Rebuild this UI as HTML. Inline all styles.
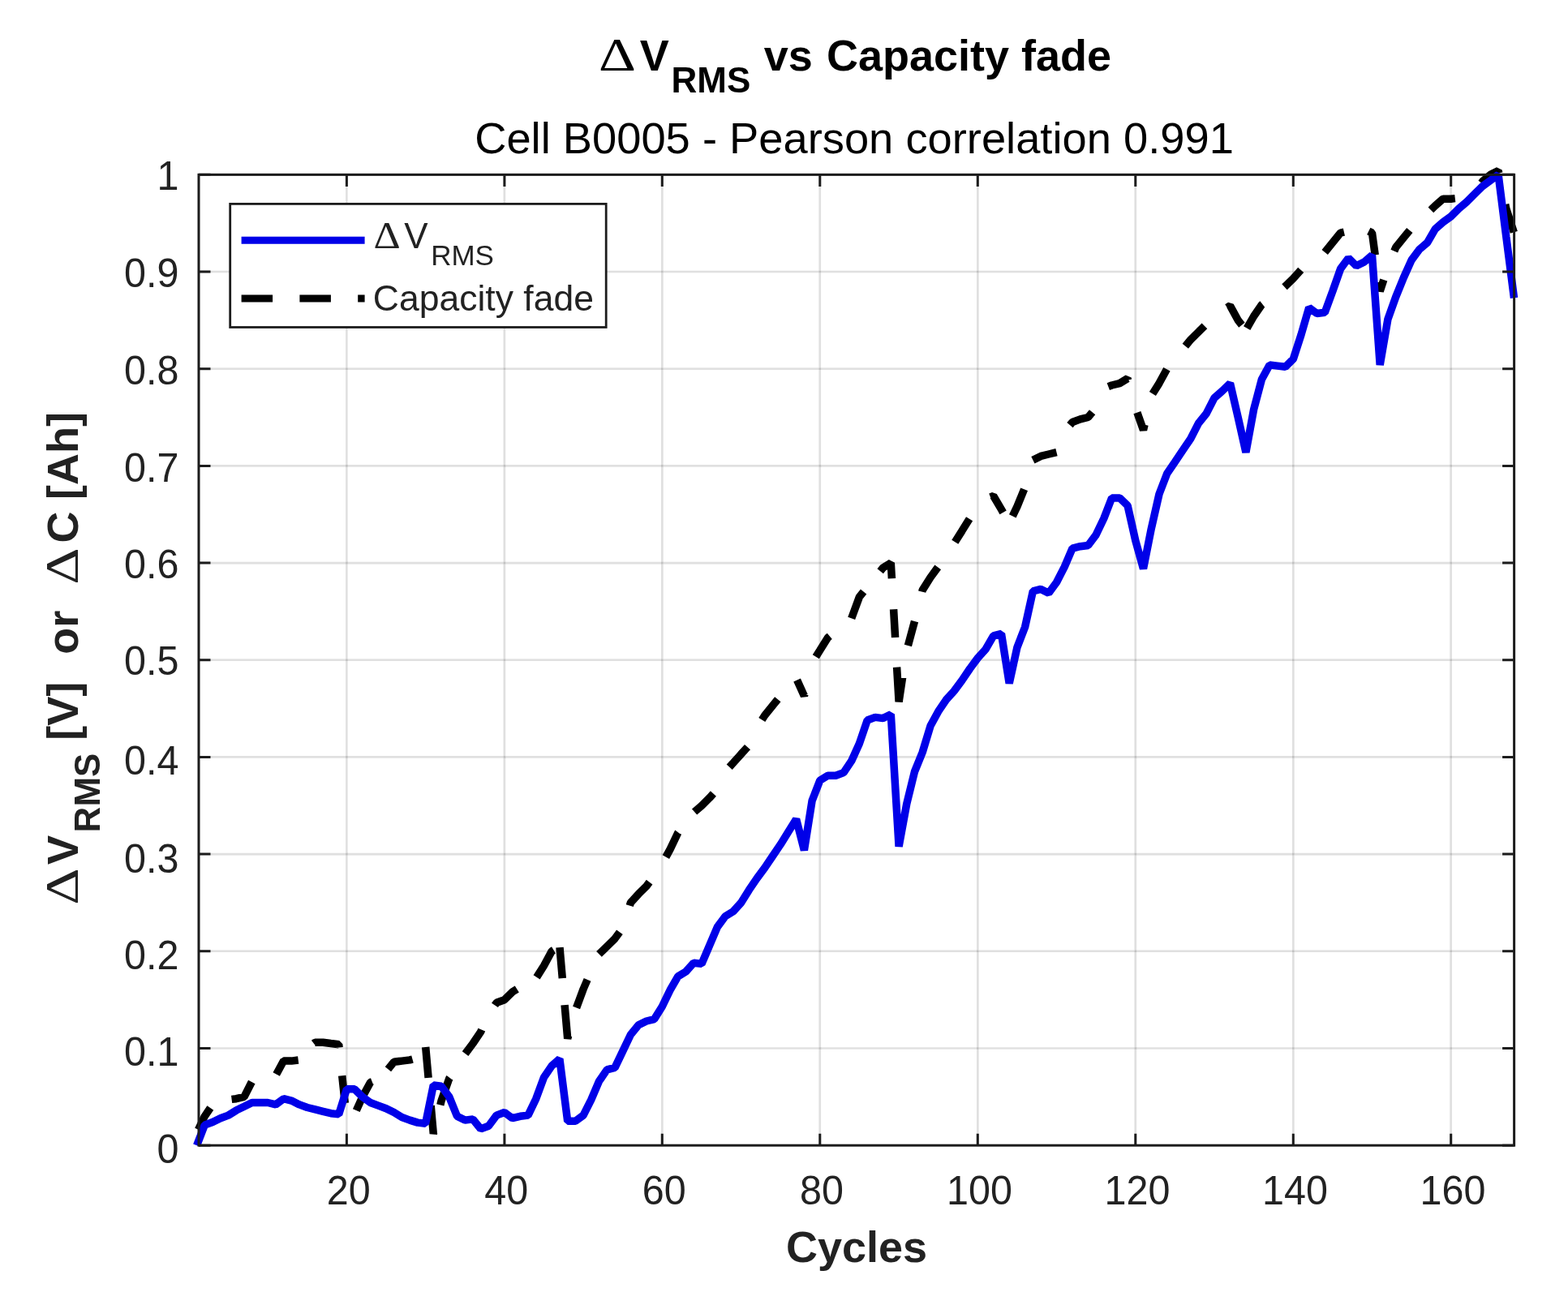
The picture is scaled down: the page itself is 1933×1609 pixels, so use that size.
<!DOCTYPE html>
<html><head><meta charset="utf-8"><title>ΔV RMS vs Capacity fade</title>
<style>html,body{margin:0;padding:0;background:#fff;}svg{display:block;}</style>
</head><body>
<svg width="1933" height="1609" viewBox="0 0 1933 1609">
<defs><filter id="soft" x="0" y="0" width="100%" height="100%" filterUnits="userSpaceOnUse"><feGaussianBlur stdDeviation="0.7"/></filter></defs>
<rect x="0" y="0" width="1933" height="1609" fill="#ffffff"/>
<g filter="url(#soft)">
<path d="M427.4 215.4V1412.2M621.9 215.4V1412.2M816.3 215.4V1412.2M1010.8 215.4V1412.2M1205.3 215.4V1412.2M1399.8 215.4V1412.2M1594.3 215.4V1412.2M1788.7 215.4V1412.2" stroke="#262626" stroke-opacity="0.15" stroke-width="2.6" fill="none"/>
<path d="M245.0 1292.5H1866.6M245.0 1172.8H1866.6M245.0 1053.1H1866.6M245.0 933.4H1866.6M245.0 813.8H1866.6M245.0 694.1H1866.6M245.0 574.4H1866.6M245.0 454.7H1866.6M245.0 335.0H1866.6" stroke="#262626" stroke-opacity="0.15" stroke-width="2.6" fill="none"/>
<path d="M244.5,1392.7 L252.3,1376.3 L259.3,1366.0M285.6,1355.4 L291.2,1354.7 L301.0,1352.4 L310.3,1334.0M340.7,1324.5 L349.6,1308.1 L359.3,1308.1 L367.7,1307.0M386.8,1286.6 L388.5,1285.3 L398.2,1285.3 L407.9,1286.5 L417.7,1287.7 L418.1,1291.5M421.7,1326.2 L425.3,1360.0M439.3,1369.1 L446.8,1352.4 L456.6,1334.4 L458.7,1333.6M478.4,1318.3 L485.7,1309.3 L495.4,1308.1 L505.2,1306.9 L508.5,1306.0M524.7,1291.0 L528.1,1328.9M531.2,1363.1 L534.3,1397.8 L534.7,1396.3M542.8,1362.4 L544.1,1357.1 L553.8,1329.6 L554.4,1328.8M573.6,1299.2 L583.0,1286.5 L592.7,1272.2 L593.8,1269.6M610.0,1239.4 L612.1,1236.3 L621.9,1232.7 L631.6,1223.1 L637.3,1219.5M661.6,1204.9 L670.5,1190.8 L680.2,1172.8 L682.5,1171.4M690.0,1168.2 L693.3,1206.2M696.1,1239.1 L699.7,1280.5 L700.6,1277.0M710.6,1242.5 L719.1,1219.5 L724.1,1207.8M738.5,1176.4 L738.5,1176.4 L748.3,1166.8 L758.0,1157.3 L763.9,1149.3M776.3,1116.6 L777.4,1113.0 L787.2,1102.2 L796.9,1092.6 L800.6,1087.6M820.9,1056.6 L826.1,1047.1 L835.8,1026.8 L836.1,1026.4M856.1,1001.0 L865.0,993.3 L874.7,983.7 L879.4,978.5M899.2,945.8 L903.9,940.6 L913.6,929.8 L921.5,921.1M939.3,887.5 L942.8,882.0 L952.5,870.0 L958.8,862.2M982.6,838.5 L991.4,858.0 L991.9,855.9M1005.8,809.8 L1010.8,801.8 L1020.5,786.2 L1022.8,784.3M1049.7,762.3 L1049.7,762.3 L1059.4,736.0 L1064.6,729.6M1085.2,704.3 L1088.6,700.0 L1098.3,694.1 L1099.4,713.3M1101.6,751.3 L1103.6,786.1M1105.6,822.6 L1108.1,865.2 L1112.6,835.3M1119.4,795.9 L1127.5,765.9M1136.7,729.7 L1137.2,727.6 L1147.0,712.0 L1156.2,699.4M1177.3,668.3 L1185.9,654.6 L1195.1,639.7M1220.9,612.9 L1224.7,611.5 L1234.5,628.2 L1236.6,631.9M1248.3,636.4 L1253.9,624.6 L1262.6,603.2M1273.4,567.2 L1273.4,567.2 L1283.1,562.4 L1292.8,560.0 L1302.5,557.6M1319.0,524.1 L1322.0,520.5 L1331.7,516.9 L1341.4,514.5 L1346.6,508.2M1366.3,476.6 L1370.6,475.0 L1380.3,472.6 L1390.1,466.6 L1390.6,468.6M1401.9,508.6 L1409.5,530.1 L1411.0,523.7M1420.9,485.5 L1429.0,472.6 L1438.4,455.3M1461.3,426.8 L1467.8,418.8 L1477.6,409.2 L1484.9,401.9M1512.7,379.2 L1516.5,376.9 L1526.2,394.8 L1530.9,400.7M1537.2,404.7 L1545.6,390.0 L1555.4,375.7 L1556.3,375.0M1583.5,353.8 L1584.5,352.9 L1594.3,343.4 L1603.7,332.9M1633.2,311.1 L1633.2,311.1 L1642.9,299.1 L1652.6,287.1 L1656.9,286.1M1687.3,285.0 L1691.5,287.1 L1695.2,314.3M1699.7,347.8 L1701.2,358.9 L1705.8,344.9M1718.8,309.6 L1720.7,305.1 L1730.4,293.1 L1737.8,284.0M1763.9,258.9 L1769.3,253.6 L1779.0,245.2 L1788.7,245.2 L1793.8,244.6M1826.3,225.5 L1827.6,223.7 L1837.4,215.3 L1847.1,210.5 L1847.7,213.5M1855.7,252.1 L1856.8,257.2 L1866.3,286.4" stroke="#000000" stroke-width="9.5" fill="none" stroke-linejoin="bevel"/>
<path d="M242.6,1412.2 L252.3,1387.1 L262.1,1383.5 L271.8,1378.7 L281.5,1375.1 L291.2,1369.1 L301.0,1364.3 L310.7,1359.5 L320.4,1359.5 L330.1,1359.5 L339.9,1361.9 L349.6,1354.7 L359.3,1357.1 L369.0,1361.9 L378.8,1365.5 L388.5,1367.9 L398.2,1370.3 L407.9,1372.7 L417.7,1373.9 L427.4,1342.8 L437.1,1342.8 L446.8,1352.4 L456.6,1359.5 L466.3,1363.1 L476.0,1366.7 L485.7,1371.5 L495.4,1377.5 L505.2,1381.1 L514.9,1384.1 L524.6,1385.3 L534.3,1338.0 L544.1,1339.2 L553.8,1352.4 L563.5,1376.3 L573.2,1381.1 L583.0,1379.9 L592.7,1391.9 L602.4,1388.3 L612.1,1375.1 L621.9,1371.5 L631.6,1378.7 L641.3,1376.3 L651.0,1375.1 L660.8,1354.7 L670.5,1328.4 L680.2,1314.1 L689.9,1305.7 L699.7,1382.3 L709.4,1382.3 L719.1,1375.1 L728.8,1355.9 L738.5,1333.2 L748.3,1318.8 L758.0,1316.4 L767.7,1296.1 L777.4,1275.8 L787.2,1263.8 L796.9,1259.0 L806.6,1256.6 L816.3,1241.0 L826.1,1220.7 L835.8,1203.9 L845.5,1198.0 L855.2,1187.2 L865.0,1188.4 L874.7,1165.6 L884.4,1142.9 L894.1,1129.7 L903.9,1123.7 L913.6,1113.0 L923.3,1097.4 L933.0,1083.1 L942.8,1069.9 L952.5,1055.5 L962.2,1041.2 L971.9,1025.6 L981.6,1010.0 L991.4,1048.3 L1001.1,987.3 L1010.8,962.2 L1020.5,956.2 L1030.3,956.2 L1040.0,952.6 L1049.7,938.2 L1059.4,916.7 L1069.2,888.0 L1078.9,884.4 L1088.6,885.6 L1098.3,880.8 L1108.1,1043.6 L1117.8,990.9 L1127.5,951.4 L1137.2,927.5 L1147.0,895.1 L1156.7,877.2 L1166.4,862.8 L1176.1,852.1 L1185.9,838.9 L1195.6,824.5 L1205.3,811.4 L1215.0,800.6 L1224.7,783.8 L1234.5,781.4 L1244.2,842.5 L1253.9,798.2 L1263.6,773.1 L1273.4,728.8 L1283.1,726.4 L1292.8,731.2 L1302.5,718.0 L1312.3,698.8 L1322.0,676.1 L1331.7,673.7 L1341.4,672.5 L1351.2,659.3 L1360.9,639.0 L1370.6,613.9 L1380.3,613.9 L1390.1,623.4 L1399.8,666.5 L1409.5,701.2 L1419.2,652.2 L1429.0,609.1 L1438.7,583.9 L1448.4,569.6 L1458.1,555.2 L1467.8,540.9 L1477.6,521.7 L1487.3,509.7 L1497.0,490.6 L1506.7,482.2 L1516.5,472.6 L1526.2,514.5 L1535.9,557.6 L1545.6,504.9 L1555.4,467.8 L1565.1,449.9 L1574.8,451.1 L1584.5,452.3 L1594.3,442.7 L1604.0,412.8 L1613.7,379.3 L1623.4,386.5 L1633.2,385.3 L1642.9,358.9 L1652.6,331.4 L1662.3,318.2 L1672.1,327.8 L1681.8,323.0 L1691.5,314.6 L1701.2,449.9 L1710.9,393.6 L1720.7,366.1 L1730.4,342.2 L1740.1,320.6 L1749.8,307.5 L1759.6,299.1 L1769.3,282.3 L1779.0,273.9 L1788.7,266.8 L1798.5,257.2 L1808.2,248.8 L1817.9,239.2 L1827.6,229.7 L1837.4,222.5 L1847.1,215.3 L1856.8,291.9 L1866.5,367.3" stroke="#0000e8" stroke-width="9.5" fill="none" stroke-linejoin="bevel"/>
<path d="M427.4 1412.2v-14.5M427.4 215.4v14.5M621.9 1412.2v-14.5M621.9 215.4v14.5M816.3 1412.2v-14.5M816.3 215.4v14.5M1010.8 1412.2v-14.5M1010.8 215.4v14.5M1205.3 1412.2v-14.5M1205.3 215.4v14.5M1399.8 1412.2v-14.5M1399.8 215.4v14.5M1594.3 1412.2v-14.5M1594.3 215.4v14.5M1788.7 1412.2v-14.5M1788.7 215.4v14.5M245.0 1412.2h14.5M1866.6 1412.2h-14.5M245.0 1292.5h14.5M1866.6 1292.5h-14.5M245.0 1172.8h14.5M1866.6 1172.8h-14.5M245.0 1053.1h14.5M1866.6 1053.1h-14.5M245.0 933.4h14.5M1866.6 933.4h-14.5M245.0 813.8h14.5M1866.6 813.8h-14.5M245.0 694.1h14.5M1866.6 694.1h-14.5M245.0 574.4h14.5M1866.6 574.4h-14.5M245.0 454.7h14.5M1866.6 454.7h-14.5M245.0 335.0h14.5M1866.6 335.0h-14.5M245.0 215.3h14.5M1866.6 215.3h-14.5" stroke="#1c1c1c" stroke-width="3" fill="none"/>
<rect x="245.0" y="215.4" width="1621.6" height="1196.8" stroke="#1c1c1c" stroke-width="3" fill="none"/>
<text transform="translate(402.7,1484.8) scale(1,1.035)" font-family="'Liberation Sans', sans-serif" font-size="48.5" fill="#222222">20</text>
<text transform="translate(597.2,1484.8) scale(1,1.035)" font-family="'Liberation Sans', sans-serif" font-size="48.5" fill="#222222">40</text>
<text transform="translate(791.7,1484.8) scale(1,1.035)" font-family="'Liberation Sans', sans-serif" font-size="48.5" fill="#222222">60</text>
<text transform="translate(986.1,1484.8) scale(1,1.035)" font-family="'Liberation Sans', sans-serif" font-size="48.5" fill="#222222">80</text>
<text transform="translate(1167.1,1484.8) scale(1,1.035)" font-family="'Liberation Sans', sans-serif" font-size="48.5" fill="#222222">100</text>
<text transform="translate(1361.6,1484.8) scale(1,1.035)" font-family="'Liberation Sans', sans-serif" font-size="48.5" fill="#222222">120</text>
<text transform="translate(1556.1,1484.8) scale(1,1.035)" font-family="'Liberation Sans', sans-serif" font-size="48.5" fill="#222222">140</text>
<text transform="translate(1750.6,1484.8) scale(1,1.035)" font-family="'Liberation Sans', sans-serif" font-size="48.5" fill="#222222">160</text>
<text transform="translate(220.4,1433.6) scale(1,1.035)" text-anchor="end" font-family="'Liberation Sans', sans-serif" font-size="48.5" fill="#222222">0</text>
<text transform="translate(220.4,1314.3) scale(1,1.035)" text-anchor="end" font-family="'Liberation Sans', sans-serif" font-size="48.5" fill="#222222">0.1</text>
<text transform="translate(220.4,1195.3) scale(1,1.035)" text-anchor="end" font-family="'Liberation Sans', sans-serif" font-size="48.5" fill="#222222">0.2</text>
<text transform="translate(220.4,1075.5) scale(1,1.035)" text-anchor="end" font-family="'Liberation Sans', sans-serif" font-size="48.5" fill="#222222">0.3</text>
<text transform="translate(220.4,955.0) scale(1,1.035)" text-anchor="end" font-family="'Liberation Sans', sans-serif" font-size="48.5" fill="#222222">0.4</text>
<text transform="translate(220.4,832.0) scale(1,1.035)" text-anchor="end" font-family="'Liberation Sans', sans-serif" font-size="48.5" fill="#222222">0.5</text>
<text transform="translate(220.4,713.0) scale(1,1.035)" text-anchor="end" font-family="'Liberation Sans', sans-serif" font-size="48.5" fill="#222222">0.6</text>
<text transform="translate(220.4,593.8) scale(1,1.035)" text-anchor="end" font-family="'Liberation Sans', sans-serif" font-size="48.5" fill="#222222">0.7</text>
<text transform="translate(220.4,474.3) scale(1,1.035)" text-anchor="end" font-family="'Liberation Sans', sans-serif" font-size="48.5" fill="#222222">0.8</text>
<text transform="translate(220.4,353.9) scale(1,1.035)" text-anchor="end" font-family="'Liberation Sans', sans-serif" font-size="48.5" fill="#222222">0.9</text>
<text transform="translate(220.4,234.2) scale(1,1.035)" text-anchor="end" font-family="'Liberation Sans', sans-serif" font-size="48.5" fill="#222222">1</text>
<g fill="#000000">
<text transform="translate(737.94,87.2) scale(1.254,1)" font-family="'Liberation Serif', serif" font-size="57.0">Δ</text>
<text x="788.8" y="87.3" font-family="'Liberation Sans', sans-serif" font-size="54" font-weight="bold" fill="#000">V</text>
<text x="827.6" y="114.3" font-family="'Liberation Sans', sans-serif" font-size="44" font-weight="bold" fill="#000">RMS</text>
<text x="941.8" y="87.3" font-family="'Liberation Sans', sans-serif" font-size="54" font-weight="bold" fill="#000">vs</text>
<text x="1019.0" y="87.3" font-family="'Liberation Sans', sans-serif" font-size="54" font-weight="bold" fill="#000">Capacity fade</text>
</g>
<text x="585.2" y="189.2" font-family="'Liberation Sans', sans-serif" font-size="54.3" font-weight="normal" fill="#000">Cell B0005 - Pearson correlation 0.991</text>
<text x="968.9" y="1556.2" font-family="'Liberation Sans', sans-serif" font-size="54" font-weight="bold" fill="#222222">Cycles</text>
<text transform="rotate(-90) translate(-1115.63,96.00) scale(1.254,1)" font-family="'Liberation Serif', serif" font-size="56.2" fill="#222222">Δ</text>
<text transform="rotate(-90)" x="-1065.9" y="96.0" font-family="'Liberation Sans', sans-serif" font-size="54" font-weight="bold" fill="#222222">V</text>
<text transform="rotate(-90)" x="-1026.4" y="123.3" font-family="'Liberation Sans', sans-serif" font-size="44" font-weight="bold" fill="#222222">RMS</text>
<text transform="rotate(-90)" x="-912.7" y="96.0" font-family="'Liberation Sans', sans-serif" font-size="54" font-weight="bold" fill="#222222">[V]</text>
<text transform="rotate(-90)" x="-806.7" y="96.0" font-family="'Liberation Sans', sans-serif" font-size="54" font-weight="bold" fill="#222222">or</text>
<text transform="rotate(-90) translate(-720.63,96.00) scale(1.254,1)" font-family="'Liberation Serif', serif" font-size="56.2" fill="#222222">Δ</text>
<text transform="rotate(-90)" x="-669.5" y="96.0" font-family="'Liberation Sans', sans-serif" font-size="54" font-weight="bold" fill="#222222">C</text>
<text transform="rotate(-90)" x="-616.0" y="96.0" font-family="'Liberation Sans', sans-serif" font-size="54" font-weight="bold" fill="#222222">[Ah]</text>
<rect x="283.7" y="251.4" width="463.5" height="152.1" fill="#ffffff" stroke="#1c1c1c" stroke-width="2.8"/>
<path d="M297.6 296.2H449.6" stroke="#0000e8" stroke-width="9"/>
<path d="M297.6 367.9H449.6" stroke="#000000" stroke-width="9" stroke-dasharray="38.5 33.3"/>
<text transform="translate(460.49,305.5) scale(1.118,1)" font-family="'Liberation Serif', serif" font-size="46.2" fill="#222222">Δ</text>
<text x="498.3" y="305.5" font-family="'Liberation Sans', sans-serif" font-size="44" font-weight="normal" fill="#222222">V</text>
<text x="531.2" y="326.6" font-family="'Liberation Sans', sans-serif" font-size="35" font-weight="normal" fill="#222222">RMS</text>
<text x="459.8" y="383.3" font-family="'Liberation Sans', sans-serif" font-size="44.5" font-weight="normal" fill="#222222">Capacity fade</text>
</g>
</svg>
</body></html>
